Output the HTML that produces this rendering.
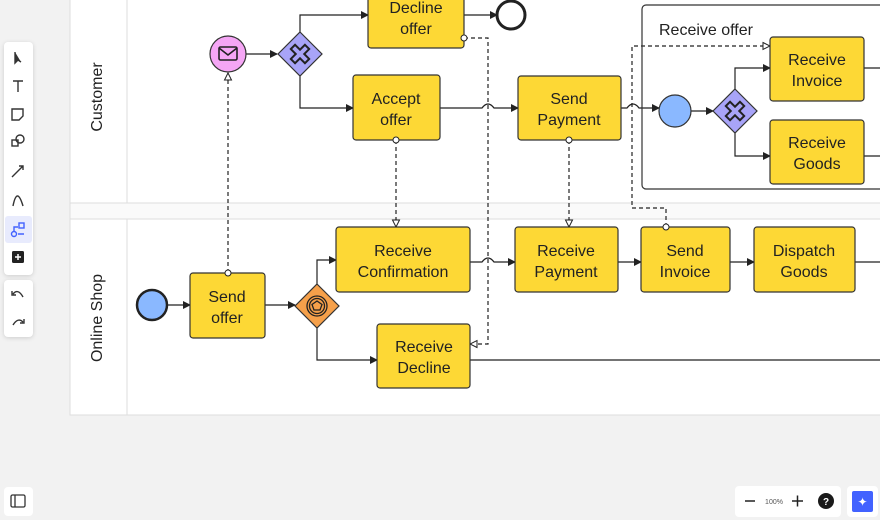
<!DOCTYPE html>
<html><head><style>
html,body{margin:0;padding:0;background:#f2f2f2;width:880px;height:520px;overflow:hidden;font-family:"Liberation Sans",sans-serif}
svg{position:absolute;left:0;top:0}
.t{font-family:"Liberation Sans",sans-serif;font-size:16px;fill:#222;text-anchor:middle}
</style></head><body>
<svg width="880" height="520" viewBox="0 0 880 520">
<defs>
<marker id="a" markerWidth="8" markerHeight="8" refX="7" refY="4" orient="auto" markerUnits="userSpaceOnUse"><path d="M0,0 L8,4 L0,8 Z" fill="#222"/></marker>
<marker id="o" markerWidth="9" markerHeight="9" refX="8" refY="4.5" orient="auto" markerUnits="userSpaceOnUse"><path d="M1,1 L8,4.5 L1,8 Z" fill="#fff" stroke="#222"/></marker>
</defs>
<rect x="70" y="-2" width="812" height="417" fill="#fff" stroke="#ddd"/>
<rect x="70" y="203" width="812" height="16" fill="#fafafa" stroke="#ddd"/>
<line x1="127" y1="0" x2="127" y2="203" stroke="#ddd"/>
<line x1="127" y1="219" x2="127" y2="415" stroke="#ddd"/>
<text class="t" transform="translate(102,97) rotate(-90)">Customer</text>
<text class="t" transform="translate(102,318) rotate(-90)">Online Shop</text>

<g stroke="#222" stroke-width="1.2" fill="none">
<path d="M246,54 H277" marker-end="url(#a)"/>
<path d="M300,32 V15 H368" marker-end="url(#a)"/>
<path d="M464,15 H497" marker-end="url(#a)"/>
<path d="M300,76 V108 H353" marker-end="url(#a)"/>
<path d="M440,108 H482 q6,-8 12,0 H518" marker-end="url(#a)"/>
<path d="M621,108 H627 q6,-8 12,0 H659" marker-end="url(#a)"/>
<path d="M691,111 H713" marker-end="url(#a)"/>
<path d="M735,89 V68 H770" marker-end="url(#a)"/>
<path d="M735,133 V156 H770" marker-end="url(#a)"/>
<path d="M864,68 H882"/>
<path d="M864,156 H882"/>
<path d="M167,305 H190" marker-end="url(#a)"/>
<path d="M265,305 H295" marker-end="url(#a)"/>
<path d="M317,284 V260 H336" marker-end="url(#a)"/>
<path d="M317,328 V360 H377" marker-end="url(#a)"/>
<path d="M470,262 H482 q6,-8 12,0 H515" marker-end="url(#a)"/>
<path d="M618,262 H641" marker-end="url(#a)"/>
<path d="M730,262 H754" marker-end="url(#a)"/>
<path d="M855,262 H882"/>
<path d="M470,360 H882"/>
<g stroke-dasharray="4,3">
<path d="M228,273 V73" marker-end="url(#o)"/>
<path d="M396,140 V227" marker-end="url(#o)"/>
<path d="M569,140 V227" marker-end="url(#o)"/>
<path d="M464,38 H488 V344 H470" marker-end="url(#o)"/>
<path d="M666,227 V208 H632 V46 H770" marker-end="url(#o)"/>
</g>
</g>

<rect x="642" y="5" width="250" height="184" rx="4" fill="none" stroke="#333" stroke-width="1.2"/>
<text x="659" y="35" style="font-size:16px;fill:#222">Receive offer</text>

<g fill="#fdd835" stroke="#333" stroke-width="1.2">
<rect x="368" y="-6" width="96" height="54" rx="3"/>
<rect x="353" y="75" width="87" height="65" rx="3"/>
<rect x="518" y="76" width="103" height="64" rx="3"/>
<rect x="770" y="37" width="94" height="64" rx="3"/>
<rect x="770" y="120" width="94" height="64" rx="3"/>
<rect x="190" y="273" width="75" height="65" rx="3"/>
<rect x="336" y="227" width="134" height="65" rx="3"/>
<rect x="377" y="324" width="93" height="64" rx="3"/>
<rect x="515" y="227" width="103" height="65" rx="3"/>
<rect x="641" y="227" width="89" height="65" rx="3"/>
<rect x="754" y="227" width="101" height="65" rx="3"/>
</g>
<g fill="#fff" stroke="#222" stroke-width="1">
<circle cx="228" cy="273" r="3"/><circle cx="396" cy="140" r="3"/><circle cx="569" cy="140" r="3"/><circle cx="464" cy="38" r="3"/><circle cx="666" cy="227" r="3"/>
</g>
<text class="t" x="416" y="13">Decline</text><text class="t" x="416" y="34">offer</text>
<text class="t" x="396" y="104">Accept</text><text class="t" x="396" y="125">offer</text>
<text class="t" x="569" y="104">Send</text><text class="t" x="569" y="125">Payment</text>
<text class="t" x="817" y="65">Receive</text><text class="t" x="817" y="86">Invoice</text>
<text class="t" x="817" y="148">Receive</text><text class="t" x="817" y="169">Goods</text>
<text class="t" x="227" y="302">Send</text><text class="t" x="227" y="323">offer</text>
<text class="t" x="403" y="256">Receive</text><text class="t" x="403" y="277">Confirmation</text>
<text class="t" x="424" y="352">Receive</text><text class="t" x="424" y="373">Decline</text>
<text class="t" x="566" y="256">Receive</text><text class="t" x="566" y="277">Payment</text>
<text class="t" x="685" y="256">Send</text><text class="t" x="685" y="277">Invoice</text>
<text class="t" x="804" y="256">Dispatch</text><text class="t" x="804" y="277">Goods</text>

<circle cx="511" cy="15" r="14" fill="#fff" stroke="#222" stroke-width="3"/>
<circle cx="228" cy="54" r="18" fill="#f5a6f5" stroke="#333" stroke-width="1.2"/>
<rect x="219" y="47" width="18" height="13" rx="1.5" fill="none" stroke="#222" stroke-width="1.6"/>
<path d="M219,48 L228,55 L237,48" fill="none" stroke="#222" stroke-width="1.6"/>
<circle cx="675" cy="111" r="16" fill="#8ab8ff" stroke="#333" stroke-width="1.2"/>
<circle cx="152" cy="305" r="15" fill="#8ab8ff" stroke="#222" stroke-width="2.5"/>

<g stroke="#333" stroke-width="1.2">
<path d="M300,32 L322,54 L300,76 L278,54 Z" fill="#a8a4f8"/>
<path d="M735,89 L757,111 L735,133 L713,111 Z" fill="#a8a4f8"/>
<path d="M317,284 L339,306 L317,328 L295,306 Z" fill="#f5a04a"/>
</g>
<g fill="none" stroke="#222" stroke-width="2">
<path transform="translate(300,54) rotate(45)" d="M-3,-10 H3 V-3 H10 V3 H3 V10 H-3 V3 H-10 V-3 H-3 Z"/>
<path transform="translate(735,111) rotate(45)" d="M-3,-10 H3 V-3 H10 V3 H3 V10 H-3 V3 H-10 V-3 H-3 Z"/>
</g>
<circle cx="317" cy="306" r="10" fill="none" stroke="#222" stroke-width="1.3"/>
<circle cx="317" cy="306" r="7.5" fill="none" stroke="#222" stroke-width="1.3"/>
<path d="M317,301 L322,304.5 L320,310 L314,310 L312,304.5 Z" fill="none" stroke="#222" stroke-width="1.3"/>

<rect x="4" y="42" width="29" height="233" rx="4" fill="#fff" style="filter:drop-shadow(0 1px 2px rgba(0,0,0,.15))"/>
<rect x="4" y="280" width="29" height="57" rx="4" fill="#fff" style="filter:drop-shadow(0 1px 2px rgba(0,0,0,.15))"/>
<rect x="5" y="216" width="27" height="27" rx="3" fill="#e8ebfd"/>
<g stroke="#333" stroke-width="1.4" fill="none">
<path d="M15,52 L15,63 L18,60 L21,62" fill="#333"/>
<path d="M13,81 H23 M18,81 V92"/>
<path d="M12,109 H23 V116 L19,120 H12 Z"/>
<rect x="12" y="140" width="6" height="6"/><circle cx="20" cy="139" r="4"/>
<path d="M12,177 L23,166 M19,166 H23 V170"/>
<path d="M13,206 Q17,186 23,206"/>
<circle cx="14" cy="234" r="2.5" stroke="#4262ff"/><rect x="19" y="223" width="5" height="5" stroke="#4262ff"/><path d="M14,231 V227 H18 M18,234 H24" stroke="#4262ff"/>
<path d="M13,294 Q18,288 23,297 M12,291 V295 H16"/>
<path d="M13,325 Q18,317 23,322 M24,319 V323 H20"/>
</g>
<rect x="12" y="251" width="12" height="12" rx="1.5" fill="#222"/>
<path d="M18,254 V260 M15,257 H21" stroke="#fff" stroke-width="1.5"/>
<rect x="4" y="487" width="29" height="29" rx="4" fill="#fff"/>
<rect x="11" y="495" width="14" height="12" rx="1.5" fill="none" stroke="#333" stroke-width="1.3"/><path d="M15,495 V507" stroke="#333" stroke-width="1.3"/>

<rect x="735" y="486" width="106" height="31" rx="4" fill="#fff"/>
<path d="M745,501 H755 M792,501 H803 M797.5,495.5 V506.5" stroke="#222" stroke-width="1.5"/>
<text x="774" y="504" style="font-size:7px;fill:#555;text-anchor:middle">100%</text>
<circle cx="826" cy="501" r="8" fill="#1a1a1a"/>
<text x="826" y="505" style="font-size:10px;font-weight:bold;fill:#fff;text-anchor:middle">?</text>
<rect x="847" y="486" width="31" height="31" rx="4" fill="#fff"/>
<rect x="852" y="491" width="21" height="21" rx="2" fill="#4262ff"/>
<text x="862.5" y="506" style="font-size:12px;fill:#fff;text-anchor:middle">✦</text>
</svg>
</body></html>
